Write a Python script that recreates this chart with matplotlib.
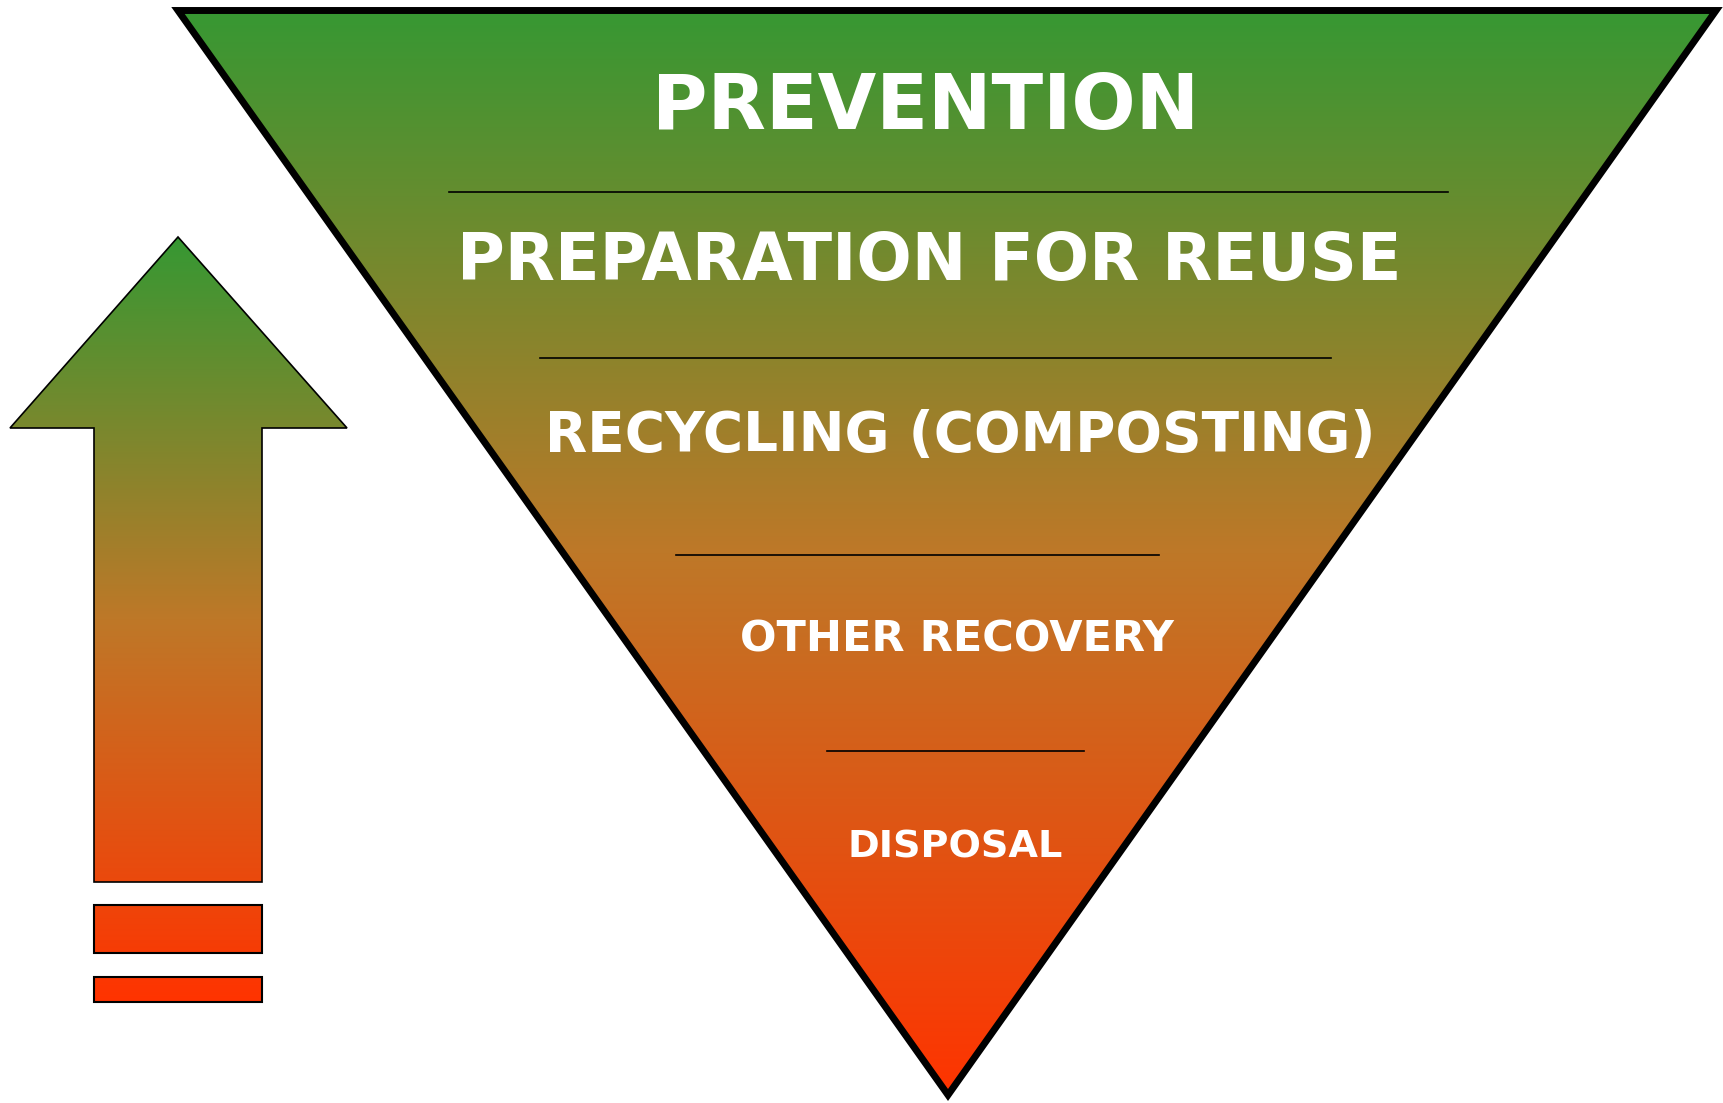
import numpy as np
import matplotlib
matplotlib.use("Agg")
import matplotlib.pyplot as plt
from matplotlib.patches import Polygon, Rectangle

# Waste hierarchy levels, top (most preferred) to bottom
levels = ["PREVENTION", "PREPARATION FOR REUSE", "RECYCLING (COMPOSTING)",
          "OTHER RECOVERY", "DISPOSAL"]
level_baseline = [129, 280, 451, 652, 858]
level_xcenter = [926, 929, 960, 957, 955]
level_fontsize = [54.5, 47, 39.5, 31, 27.5]

# Divider lines between levels: y and x-extent
divider_y = [192, 358, 555, 751]
divider_x0 = [449, 540, 676, 827]
divider_x1 = [1448, 1331, 1159, 1084]

W, H = 1724, 1103

# gradient stops (fraction, rgb)
stop_pos = [0.0, 0.5, 1.0]
stop_rgb = np.array([[54, 152, 51], [190, 120, 40], [255, 51, 0]]) / 255.0


def gradient_fill(ax, patch, x0, x1, y0, y1):
    t = np.linspace(0, 1, 512)
    img = np.stack([np.interp(t, stop_pos, stop_rgb[:, c]) for c in range(3)], axis=-1)
    img = img[:, None, :]
    ax.add_patch(patch)
    im = ax.imshow(img, extent=(x0, x1, y1, y0), origin="upper",
                   aspect="auto", interpolation="bilinear", zorder=1)
    im.set_clip_path(patch)


fig = plt.figure(figsize=(W / 100, H / 100), dpi=100)
ax = fig.add_axes([0, 0, 1, 1])
ax.axis("off")

# big inverted triangle
tri_pts = [(178, 10.5), (1716, 10.5), (948, 1095)]
tri_fill = Polygon(tri_pts, closed=True, facecolor="none", edgecolor="none")
gradient_fill(ax, tri_fill, 170, 1724, 7, 1100)
ax.add_patch(Polygon(tri_pts, closed=True, facecolor="none", edgecolor="black",
                     linewidth=5, joinstyle="miter", zorder=3))

# up arrow on the left
arrow_pts = [(178, 237), (347, 428), (262, 428), (262, 882),
             (94, 882), (94, 428), (10, 428)]
arr_fill = Polygon(arrow_pts, closed=True, facecolor="none", edgecolor="none")
gradient_fill(ax, arr_fill, 10, 347, 237, 1002)
ax.add_patch(Polygon(arrow_pts, closed=True, facecolor="none", edgecolor="black",
                     linewidth=1.2, zorder=3))

# two bars under the arrow
for (yt, yb) in [(905, 953), (977, 1002)]:
    r = Rectangle((94, yt), 168, yb - yt, facecolor="none", edgecolor="none")
    gradient_fill(ax, r, 10, 347, 237, 1002)
    ax.add_patch(Rectangle((94, yt), 168, yb - yt, facecolor="none",
                           edgecolor="black", linewidth=1.5, zorder=3))

for y, xa, xb in zip(divider_y, divider_x0, divider_x1):
    ax.plot([xa, xb], [y, y], color="black", linewidth=1.2, zorder=4)

for lab, yb, xc, fs in zip(levels, level_baseline, level_xcenter, level_fontsize):
    ax.text(xc, yb, lab, ha="center", va="baseline", color="white",
            fontsize=fs, fontweight="bold", family="DejaVu Sans", zorder=5)

ax.set_xlim(0, W)
ax.set_ylim(H, 0)

fig.savefig("out.png", dpi=100)
